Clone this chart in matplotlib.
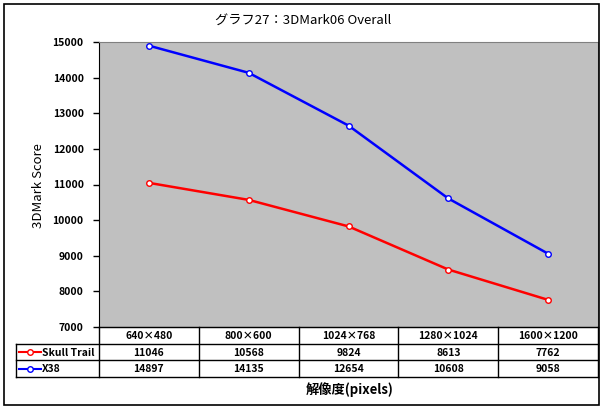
import matplotlib.pyplot as plt
from matplotlib.patches import Rectangle

resolutions = ['640×480', '800×600', '1024×768', '1280×1024', '1600×1200']
skull_trail = [11046, 10568, 9824, 8613, 7762]
x38 = [14897, 14135, 12654, 10608, 9058]
series_names = ['Skull Trail', 'X38']
series_values = [skull_trail, x38]
series_colors = ['#FF0000', '#0000FF']
yticks = list(range(7000, 15001, 1000))

JP = ['Noto Sans CJK JP', 'DejaVu Sans']
plt.rcParams['font.family'] = JP

W, H = 604, 408
fig = plt.figure(figsize=(W / 100, H / 100), dpi=100)


def px_rect(x0, y0, x1, y1):
    return [x0 / W, 1 - y1 / H, (x1 - x0) / W, (y1 - y0) / H]


# outer chart border
fig.patches.append(Rectangle((4 / W, 1 - 405 / H), 595 / W, 401 / H,
                             transform=fig.transFigure, fill=False,
                             edgecolor='black', linewidth=1.2))

# plot area
ax = fig.add_axes(px_rect(99, 42, 598, 327))
ax.set_facecolor('#C0C0C0')
for name, vals, col in zip(series_names, series_values, series_colors):
    ax.plot(range(len(vals)), vals, color=col, linewidth=1.8, marker='o',
            markersize=4, markerfacecolor='white', markeredgecolor=col,
            markeredgewidth=1.0, label=name)
ax.set_xlim(-0.5, len(resolutions) - 0.5)
ax.set_ylim(yticks[0], yticks[-1])
ax.set_yticks(yticks)
ax.set_yticklabels([str(v) for v in yticks], fontsize=7.5, fontweight='bold')
ax.set_xticks([])
ax.tick_params(axis='y', direction='out', length=4, width=1, pad=7)
for side in ['top', 'right', 'bottom']:
    ax.spines[side].set_color('#808080')
ax.spines['left'].set_color('black')

# data table
tab = fig.add_axes(px_rect(99, 327, 598, 377))
tab.set_xlim(-0.5, len(resolutions) - 0.5)
tab.set_ylim(3, 0)
tab.axis('off')
colw = 499 / len(resolutions)
xl = -0.5 - (99 - 16) / colw
lk = dict(color='black', linewidth=1, clip_on=False)
tab.plot([-0.5, 4.5], [0, 0], **lk)
for r in [1, 2, 3]:
    tab.plot([xl, 4.5], [r, r], **lk)
for i in range(len(resolutions) + 1):
    tab.plot([-0.5 + i, -0.5 + i], [0, 3], **lk)
tab.plot([xl, xl], [1, 3], **lk)

for i, lab in enumerate(resolutions):
    tab.text(i, 0.55, lab, ha='center', va='center', fontsize=7.5,
             fontweight='bold')
for r, (name, vals, col) in enumerate(zip(series_names, series_values, series_colors), start=1):
    for i, v in enumerate(vals):
        tab.text(i, r + 0.55, str(v), ha='center', va='center', fontsize=7.5,
                 fontweight='bold')
    x0 = xl + 3 / colw
    x1 = xl + 25 / colw
    tab.plot([x0, x1], [r + 0.5, r + 0.5], color=col, linewidth=1.5, clip_on=False)
    tab.plot([(x0 + x1) / 2], [r + 0.5], marker='o', markersize=4,
             markerfacecolor='white', markeredgecolor=col, markeredgewidth=1.0,
             clip_on=False)
    tab.text(x1 + 1 / colw, r + 0.55, name, ha='left', va='center', fontsize=7.5,
             fontweight='bold')

# titles
fig.text(303 / W, 1 - 20 / H, 'グラフ27：3DMark06 Overall', ha='center',
         va='center', fontsize=9.5)
fig.text(38 / W, 1 - 186 / H, '3DMark Score', ha='center', va='center',
         rotation=90, fontsize=9.5)
fig.text(350 / W, 1 - 390 / H, '解像度(pixels)', ha='center', va='center',
         fontsize=9.5, fontweight='bold')

fig.savefig('out.png', dpi=100)
